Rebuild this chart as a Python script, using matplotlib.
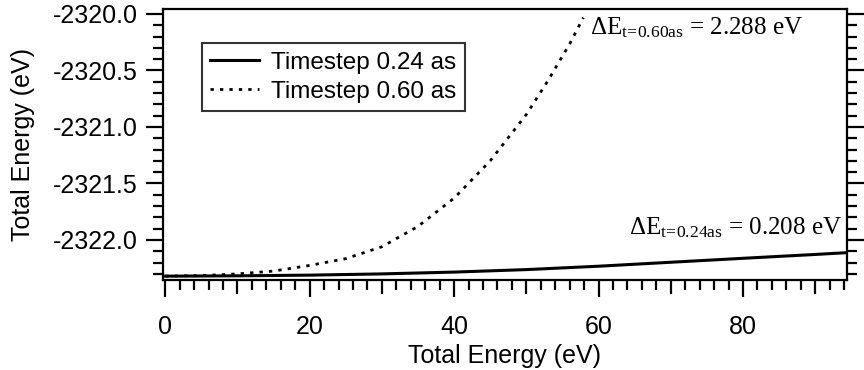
import numpy as np
import matplotlib
matplotlib.use('Agg')
import matplotlib.pyplot as plt
from matplotlib.ticker import MultipleLocator, FixedLocator

plt.rcParams['font.family'] = 'Liberation Sans'
plt.rcParams['mathtext.fontset'] = 'custom'
plt.rcParams['mathtext.rm'] = 'Liberation Serif'
plt.rcParams['mathtext.it'] = 'Liberation Serif'

### ------------------- Data -------------------
# timestep 0.24 as
x_024 = [0, 10, 20, 30, 40, 50, 60, 70, 80, 90, 94.4]
e_024 = [-2322.320, -2322.317, -2322.311, -2322.300, -2322.284, -2322.262,
         -2322.232, -2322.197, -2322.162, -2322.128, -2322.112]

# timestep 0.60 as
x_060 = [0, 5, 10, 15, 20, 25, 30, 35, 40, 45, 50, 53, 56, 57.9]
e_060 = [-2322.320, -2322.315, -2322.300, -2322.275, -2322.225, -2322.165,
         -2322.060, -2321.880, -2321.630, -2321.300, -2320.890, -2320.590,
         -2320.265, -2320.032]

labels = ['Timestep 0.24 as', 'Timestep 0.60 as']
dE_024 = 0.208
dE_060 = 2.288

### ------------------- Plot -------------------
fig = plt.figure(figsize=(8.64, 3.70), dpi=100)
ax = fig.add_axes([163/864, 1-280/370, (847-163)/864, (280-9)/370])

ax.plot(x_024, e_024, color='k', lw=2.2, label=labels[0])
ax.plot(x_060, e_060, color='k', lw=2.0, linestyle=(0, (1.2, 2.2)), label=labels[1])

ax.set_xlim(-0.3, 94.4)
ax.set_ylim(-2322.354, -2319.956)

# x ticks: labels every 20, medium ticks every 10, minor every 2
ax.xaxis.set_major_locator(MultipleLocator(20))
ax.xaxis.set_minor_locator(FixedLocator([v for v in range(2, 95, 2) if v % 10 != 0]))
ax.tick_params(axis='x', which='major', direction='out', length=12, width=1.6,
               labelsize=18, pad=13, top=False)
ax.tick_params(axis='x', which='minor', direction='out', length=7, width=1.6, top=False)
sec = ax.secondary_xaxis('bottom')
sec.set_xticks([10, 30, 50, 70, 90])
sec.tick_params(direction='out', length=10, width=1.6, labelbottom=False)
sec.spines['bottom'].set_visible(False)

ax.yaxis.set_major_locator(MultipleLocator(0.5))
ax.yaxis.set_minor_locator(MultipleLocator(0.1))
ax.tick_params(axis='y', which='major', direction='out', length=12, width=1.6,
               labelsize=18, pad=6, right=True)
ax.tick_params(axis='y', which='minor', direction='out', length=7, width=1.6, right=True)
ax.yaxis.set_major_formatter(matplotlib.ticker.FormatStrFormatter('%.1f'))

for s in ax.spines.values():
    s.set_linewidth(1.6)

ax.set_xlabel('Total Energy (eV)', fontsize=18, labelpad=4)
ax.set_ylabel('Total Energy (eV)', fontsize=18, labelpad=13)

leg = ax.legend(loc='upper left', bbox_to_anchor=(0.057, 0.8745), borderaxespad=0,
                fontsize=17.5, frameon=True, fancybox=False, handlelength=2.0,
                handletextpad=0.5, labelspacing=0.3, borderpad=0.35)
leg.get_frame().set_edgecolor('k')
leg.get_frame().set_linewidth(1.5)

ax.text(0.624, 0.905, r'$\Delta\mathrm{E}_{\mathrm{t\!=\!0.60as}}$' + ' = %.3f eV' % dE_060,
        transform=ax.transAxes, fontsize=18, family='Liberation Serif', va='baseline')
ax.text(0.993, 0.167, r'$\Delta\mathrm{E}_{\mathrm{t\!=\!0.24as}}$' + ' = %.3f eV' % dE_024,
        transform=ax.transAxes, fontsize=18, family='Liberation Serif', va='baseline', ha='right')

plt.savefig('out.png', dpi=100)
